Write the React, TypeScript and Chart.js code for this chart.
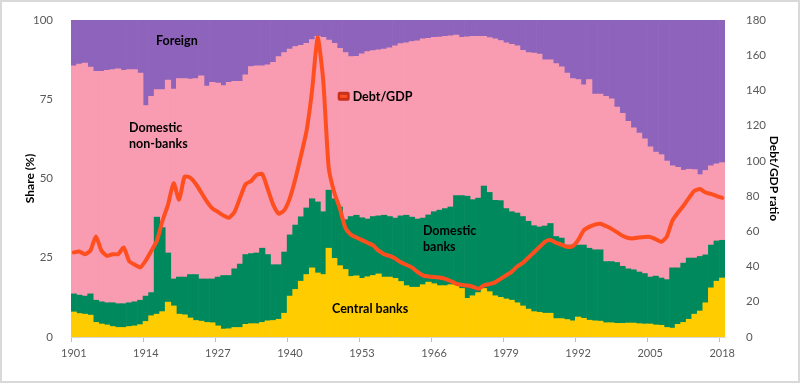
import { useEffect, useRef } from 'react';
import { Chart, registerables } from 'chart.js';

Chart.register(...registerables);

const years: string[] = Array.from({ length: 118 }, (_, i) => String(1901 + i));
const xTickLabels = ['1901', '1914', '1927', '1940', '1953', '1966', '1979', '1992', '2005', '2018'];

const centralBanks = [
  7.9, 7.4, 7.2, 6.9, 4.6, 4.1, 3.8, 3.3, 3.0, 3.0, 3.3, 3.5, 3.9, 4.9, 6.7, 7.2, 8.0, 11.0, 9.8, 7.2,
  7.0, 6.0, 5.2, 5.0, 4.6, 4.5, 3.5, 2.5, 2.6, 3.0, 3.0, 4.0, 4.2, 4.2, 4.6, 5.1, 5.2, 5.6, 7.5, 12.9,
  15.0, 17.6, 19.7, 21.8, 20.2, 19.7, 28.0, 24.8, 22.5, 21.3, 19.1, 19.3, 18.5, 19.0, 19.4, 19.9, 18.9, 18.9, 18.5, 17.5,
  16.2, 15.7, 15.7, 16.5, 17.3, 16.8, 16.2, 16.2, 16.5, 16.5, 15.3, 12.2, 13.0, 14.0, 15.3, 14.3, 13.0, 12.5, 12.0, 11.6,
  10.8, 9.8, 8.8, 8.0, 7.8, 7.5, 7.5, 5.8, 5.8, 5.5, 5.1, 6.3, 5.9, 5.3, 5.1, 5.0, 4.5, 4.5, 4.3, 4.3,
  4.4, 4.4, 4.2, 4.1, 4.1, 3.8, 3.7, 3.0, 2.8, 4.0, 4.6, 5.6, 7.2, 8.2, 10.8, 15.5, 17.6, 18.6,
];

const domesticBanks = [
  5.7, 5.8, 5.7, 6.7, 7.0, 7.0, 7.0, 7.5, 7.5, 7.5, 7.5, 7.6, 7.7, 8.0, 7.3, 30.6, 26.5, 15.5, 8.5, 11.7,
  11.9, 13.7, 14.5, 13.3, 13.7, 13.8, 15.4, 16.9, 16.8, 18.5, 20.0, 22.0, 22.1, 22.3, 23.4, 20.9, 17.6, 17.2, 19.3, 19.3,
  20.3, 20.3, 21.0, 21.8, 22.4, 19.8, 18.3, 18.8, 18.5, 15.7, 18.9, 19.1, 19.1, 18.2, 18.6, 18.3, 19.5, 19.1, 19.0, 20.7,
  22.2, 22.1, 21.5, 21.0, 21.2, 22.7, 23.8, 24.3, 24.5, 28.1, 29.3, 32.2, 30.3, 29.8, 32.3, 31.3, 30.1, 30.5, 28.5, 27.9,
  28.3, 28.2, 27.7, 27.1, 26.9, 27.5, 28.3, 25.9, 25.4, 23.5, 23.9, 22.7, 23.1, 22.7, 22.4, 22.5, 19.3, 19.3, 19.2, 18.0,
  17.1, 16.8, 16.3, 15.9, 14.8, 15.4, 14.9, 15.1, 19.0, 17.8, 18.7, 19.3, 17.7, 17.2, 15.1, 13.5, 12.7, 11.9,
];

const domesticNonBanks = [
  71.9, 72.9, 73.5, 71.5, 72.2, 72.7, 73.3, 73.5, 74.1, 73.6, 73.5, 73.2, 71.6, 60.1, 61.9, 40.2, 43.5, 54.5, 59.9, 62.6,
  62.6, 61.6, 61.8, 64.1, 60.8, 62.0, 61.2, 59.9, 60.9, 59.1, 57.6, 56.7, 59.0, 59.0, 57.5, 59.8, 63.8, 65.6, 62.9, 58.6,
  56.3, 54.1, 51.9, 50.2, 52.2, 55.0, 47.3, 49.0, 50.0, 52.7, 50.4, 50.1, 51.7, 52.8, 52.3, 52.4, 52.4, 53.2, 54.3, 54.3,
  54.4, 55.4, 56.2, 56.5, 55.7, 55.0, 54.6, 54.3, 54.0, 50.6, 49.9, 50.3, 51.5, 51.0, 47.2, 48.8, 50.9, 50.5, 52.3, 52.8,
  52.7, 52.4, 53.2, 54.4, 54.5, 52.4, 51.6, 54.5, 54.0, 54.2, 52.5, 52.2, 50.5, 53.2, 49.1, 49.1, 52.1, 51.3, 49.0, 48.2,
  46.5, 44.8, 43.8, 42.5, 41.1, 39.1, 38.9, 37.4, 32.2, 31.7, 29.3, 28.0, 27.9, 25.8, 26.6, 25.0, 24.3, 24.5,
];

const foreign = [
  14.5, 13.9, 13.6, 14.9, 16.2, 16.2, 15.9, 15.7, 15.4, 15.9, 15.7, 15.7, 16.8, 27.0, 24.1, 22.0, 22.0, 19.0, 21.8, 18.5,
  18.5, 18.7, 18.5, 17.6, 20.9, 19.7, 19.9, 20.7, 19.7, 19.4, 19.4, 17.3, 14.7, 14.5, 14.5, 14.2, 13.4, 11.6, 10.3, 9.2,
  8.4, 8.0, 7.4, 6.2, 5.2, 5.5, 6.4, 7.4, 9.0, 10.3, 11.6, 11.5, 10.7, 10.0, 9.7, 9.4, 9.2, 8.8, 8.2, 7.5,
  7.2, 6.8, 6.6, 6.0, 5.8, 5.5, 5.4, 5.2, 5.0, 4.8, 5.5, 5.3, 5.2, 5.2, 5.2, 5.6, 6.0, 6.5, 7.2, 7.7,
  8.2, 9.6, 10.3, 10.5, 10.8, 12.6, 12.6, 13.8, 14.8, 16.8, 18.5, 18.8, 20.5, 18.8, 23.4, 23.4, 24.1, 24.9, 27.5, 29.5,
  32.0, 34.0, 35.7, 37.5, 40.0, 41.7, 42.5, 44.5, 46.0, 46.5, 47.4, 47.1, 47.2, 48.8, 47.5, 46.0, 45.4, 45.0,
];

const debtToGdp = [
  48, 48.5, 47, 49, 57, 49, 46, 47, 47, 50.8, 43, 41, 39.5, 43.5, 49, 54.6, 66, 75, 87.3, 78,
  91, 90.5, 87, 82, 77, 73, 71, 69, 67.7, 71, 79, 86.8, 88.5, 92, 92.5, 84, 75, 70, 72, 79,
  90, 103, 117, 140, 170, 146, 96, 82, 73, 62, 58, 56.5, 55, 53.5, 52, 49, 47, 46, 44.5, 42.4,
  41, 39.5, 37, 35, 34.3, 34, 33.8, 33, 31.8, 30.2, 29.6, 29.2, 28.5, 27.4, 29.3, 30, 31, 33, 35, 37,
  40, 42, 45, 48, 51, 54, 55, 53.5, 52.5, 51.2, 51.5, 55, 60.5, 62.5, 63.8, 64.3, 63, 61.5, 59.5, 57.5,
  56.2, 56, 56.5, 56.8, 56.8, 55.5, 54, 57, 66, 70.5, 74.5, 79, 83, 84, 82, 81.2, 80, 79,
];

const COLORS = {
  central: '#FFCC00',
  banks: '#00895C',
  nonBanks: '#F99BB1',
  foreign: '#8E63BB',
  debt: '#FF4F1F',
  text: '#000000',
  tick: '#595959',
};

// in-chart labels, placed in data coordinates (category index, share %)
const annotations = [
  { lines: ['Foreign'], x: 18.6, y: 93.4, align: 'center' as CanvasTextAlign },
  { lines: ['Domestic', 'non-banks'], x: 9.97, y: 65.8, align: 'left' as CanvasTextAlign },
  { lines: ['Domestic', 'banks'], x: 63.0, y: 33.4, align: 'left' as CanvasTextAlign },
  { lines: ['Central banks'], x: 46.6, y: 8.75, align: 'left' as CanvasTextAlign },
];

const FONT = 'Lato, "Open Sans", sans-serif';

const annotationPlugin = {
  id: 'annotationLabels',
  afterDatasetsDraw(chart: any) {
    const { ctx, scales } = chart;
    const xs = scales.x;
    const ys = scales.y;
    ctx.save();
    ctx.font = `bold 12.5px ${FONT}`;
    ctx.fillStyle = COLORS.text;
    ctx.textBaseline = 'middle';
    for (const a of annotations) {
      ctx.textAlign = a.align;
      const px = xs.getPixelForValue(a.x);
      const py = ys.getPixelForValue(a.y);
      a.lines.forEach((line, k) => ctx.fillText(line, px, py + k * 15.5));
    }
    // legend for the line series
    const lx = xs.getPixelForValue(48.7);
    const ly = ys.getPixelForValue(75.9);
    ctx.fillStyle = '#C8321C';
    ctx.beginPath();
    if ((ctx as any).roundRect) (ctx as any).roundRect(lx - 6, ly - 4.5, 12, 9, 2);
    else ctx.rect(lx - 6, ly - 4.5, 12, 9);
    ctx.fill();
    ctx.strokeStyle = COLORS.debt;
    ctx.lineWidth = 3;
    ctx.beginPath();
    ctx.moveTo(lx - 3.5, ly);
    ctx.lineTo(lx + 3.5, ly);
    ctx.stroke();
    ctx.fillStyle = COLORS.text;
    ctx.textAlign = 'left';
    ctx.fillText('Debt/GDP', lx + 9, ly + 0.5);
    ctx.restore();
  },
};

function App() {
  const canvasRef = useRef<HTMLCanvasElement | null>(null);

  useEffect(() => {
    const canvas = canvasRef.current;
    if (!canvas) return;
    const chart = new Chart(canvas, {
      type: 'bar',
      data: {
        labels: years,
        datasets: [
          {
            type: 'line',
            label: 'Debt/GDP',
            data: debtToGdp,
            yAxisID: 'y2',
            borderColor: COLORS.debt,
            backgroundColor: COLORS.debt,
            borderWidth: 4,
            pointRadius: 0,
            tension: 0.2,
            borderJoinStyle: 'round',
            borderCapStyle: 'round',
            order: 0,
          } as any,
          { label: 'Central banks', data: centralBanks, backgroundColor: COLORS.central, stack: 's', order: 1 },
          { label: 'Domestic banks', data: domesticBanks, backgroundColor: COLORS.banks, stack: 's', order: 1 },
          { label: 'Domestic non-banks', data: domesticNonBanks, backgroundColor: COLORS.nonBanks, stack: 's', order: 1 },
          { label: 'Foreign', data: foreign, backgroundColor: COLORS.foreign, stack: 's', order: 1 },
        ],
      },
      options: {
        responsive: false,
        animation: false,
        datasets: { bar: { barPercentage: 1, categoryPercentage: 1, borderWidth: 0 } },
        layout: { padding: { left: 19, right: 15, top: 17, bottom: 0 } },
        plugins: { legend: { display: false }, tooltip: { enabled: false } },
        scales: {
          x: {
            stacked: true,
            grid: {
              display: true,
              drawOnChartArea: false,
              drawTicks: true,
              tickLength: 5,
              offset: true,
              color: (c: any) => (c.index % 13 === 0 ? '#bfbfbf' : 'rgba(0,0,0,0)'),
            },
            border: { display: true, color: '#d9d9d9' },
            ticks: {
              autoSkip: false,
              maxRotation: 0,
              minRotation: 0,
              padding: 5,
              color: COLORS.tick,
              font: { family: FONT, size: 11 },
              callback: (_v: any, i: number) => (xTickLabels.includes(years[i]) ? years[i] : ''),
            },
            afterFit: (s: any) => {
              s.height = 46;
            },
          },
          y: {
            stacked: true,
            position: 'left',
            min: 0,
            max: 100,
            grid: { display: false },
            border: { display: false },
            ticks: { stepSize: 25, padding: 10, color: COLORS.tick, font: { family: FONT, size: 11.5 } },
            title: { display: true, text: 'Share (%)', color: COLORS.text, font: { family: FONT, size: 12, weight: 'bold' } },
            afterFit: (s: any) => {
              s.width = 52;
            },
          },
          y2: {
            position: 'right',
            min: 0,
            max: 180,
            grid: { display: false },
            border: { display: false },
            ticks: { stepSize: 20, padding: 13, color: COLORS.tick, font: { family: FONT, size: 11.5 } },
            title: { display: true, text: 'Debt/GDP ratio', color: COLORS.text, font: { family: FONT, size: 12, weight: 'bold' } },
            afterFit: (s: any) => {
              s.width = 60;
            },
          },
        },
      } as any,
      plugins: [annotationPlugin],
    });
    return () => chart.destroy();
  }, []);

  return (
    <div style={{ position: 'fixed', left: 0, top: 0, width: 800, height: 383, background: '#ffffff' }}>
      <canvas ref={canvasRef} width={800} height={383} style={{ display: 'block', width: 800, height: 383 }} />
      <div
        style={{
          position: 'absolute',
          left: 0,
          top: 0,
          width: 800,
          height: 383,
          boxSizing: 'border-box',
          border: '2px solid #d9d9d9',
          pointerEvents: 'none',
        }}
      />
    </div>
  );
}

export default App;
